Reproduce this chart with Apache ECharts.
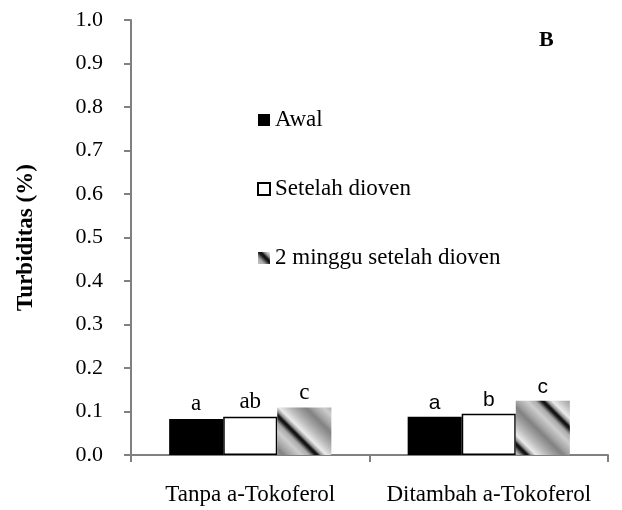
<!DOCTYPE html>
<html>
<head>
<meta charset="utf-8">
<script src="https://cdn.jsdelivr.net/npm/echarts@6/dist/echarts.min.js"></script>
<style>html,body{margin:0;padding:0;background:#fff}#c{width:622px;height:510px}</style>
</head>
<body>
<div id="c"></div>
<script>
const categories = ['Tanpa a-Tokoferol', 'Ditambah a-Tokoferol'];
const seriesNames = ['Awal', 'Setelah dioven', '2 minggu setelah dioven'];
const awal = [0.083, 0.088];
const setelahDioven = [0.088, 0.095];
const duaMinggu = [0.109, 0.125];
const lettersAwal = ['a', 'a'];
const lettersSetelah = ['ab', 'b'];
const lettersDua = ['c', 'c'];
const yMin = 0, yMax = 1, yStep = 0.1;
const panelLabel = 'B';
const yTitle = 'Turbiditas (%)';

// diagonal gradient pattern tile
function makePattern() {
  const P = 70;
  const cv = document.createElement('canvas');
  cv.width = P; cv.height = P;
  const ctx = cv.getContext('2d');
  const img = ctx.createImageData(P, P);
  const stops = [[0, 30], [0.04, 15], [0.09, 150], [0.16, 235], [0.3, 190], [0.45, 150], [0.55, 130], [0.65, 165], [0.8, 205], [0.92, 170], [0.97, 90], [1, 30]];
  function g(t) {
    for (let i = 0; i < stops.length - 1; i++) {
      const a = stops[i], b = stops[i + 1];
      if (t >= a[0] && t <= b[0]) return a[1] + (b[1] - a[1]) * (t - a[0]) / (b[0] - a[0]);
    }
    return 30;
  }
  for (let y = 0; y < P; y++) {
    for (let x = 0; x < P; x++) {
      const t = (((x - y) % P) + P) % P / P;
      const v = Math.round(g(t));
      const k = (y * P + x) * 4;
      img.data[k] = v; img.data[k + 1] = v; img.data[k + 2] = v; img.data[k + 3] = 255;
    }
  }
  ctx.putImageData(img, 0, 0);
  return cv;
}
const pattern = { image: makePattern(), repeat: 'repeat' };

const serif = 'Liberation Serif';
const sans = 'Liberation Sans';
function items(vals, letters) {
  return vals.map((v, i) => ({
    value: v,
    label: {
      formatter: letters[i],
      fontFamily: i === 0 ? serif : sans,
      fontSize: i === 0 ? 23 : 21
    }
  }));
}
const labelBase = { show: true, position: 'top', distance: 3, color: '#000' };

const chart = echarts.init(document.getElementById('c'), null, { renderer: 'canvas' });
chart.setOption({
  animation: false,
  backgroundColor: '#fff',
  grid: { left: 131, right: 14, top: 20, bottom: 55, containLabel: false },
  legend: {
    orient: 'vertical',
    left: 252,
    top: 103,
    itemGap: 45,
    itemWidth: 12,
    itemHeight: 12,
    icon: 'rect',
    textStyle: { fontFamily: serif, fontSize: 23, color: '#000', lineHeight: 24 },
    data: seriesNames
  },
  graphic: [{
    type: 'text', left: 539, top: 29,
    style: { text: panelLabel, font: 'bold 22px "Liberation Serif"', fill: '#000' }
  }],
  xAxis: {
    type: 'category',
    data: categories,
    axisLine: { lineStyle: { color: '#808080', width: 2 } },
    axisTick: { show: true, length: 7, lineStyle: { color: '#808080', width: 2 }, alignWithLabel: false },
    axisLabel: { fontFamily: serif, fontSize: 23, color: '#000', margin: 28, interval: 0, hideOverlap: false }
  },
  yAxis: {
    type: 'value',
    min: yMin, max: yMax, interval: yStep,
    name: yTitle,
    nameLocation: 'middle',
    nameGap: 93,
    nameTextStyle: { fontFamily: serif, fontSize: 23, fontWeight: 'bold', color: '#000' },
    axisLine: { show: true, lineStyle: { color: '#808080', width: 2 } },
    axisTick: { show: true, length: 7, lineStyle: { color: '#808080', width: 2 } },
    splitLine: { show: false },
    axisLabel: { fontFamily: serif, fontSize: 22, color: '#000', margin: 28, formatter: v => v.toFixed(1) }
  },
  series: [
    { name: seriesNames[0], type: 'bar', barGap: 0, barCategoryGap: '32%',
      itemStyle: { color: '#000' }, label: labelBase, data: items(awal, lettersAwal) },
    { name: seriesNames[1], type: 'bar', barGap: 0, barCategoryGap: '32%',
      itemStyle: { color: '#fff', borderColor: '#000', borderWidth: 1.5 }, label: labelBase, data: items(setelahDioven, lettersSetelah) },
    { name: seriesNames[2], type: 'bar', barGap: 0, barCategoryGap: '32%',
      itemStyle: { color: pattern }, label: labelBase, data: items(duaMinggu, lettersDua) }
  ]
});
</script>
</body>
</html>
